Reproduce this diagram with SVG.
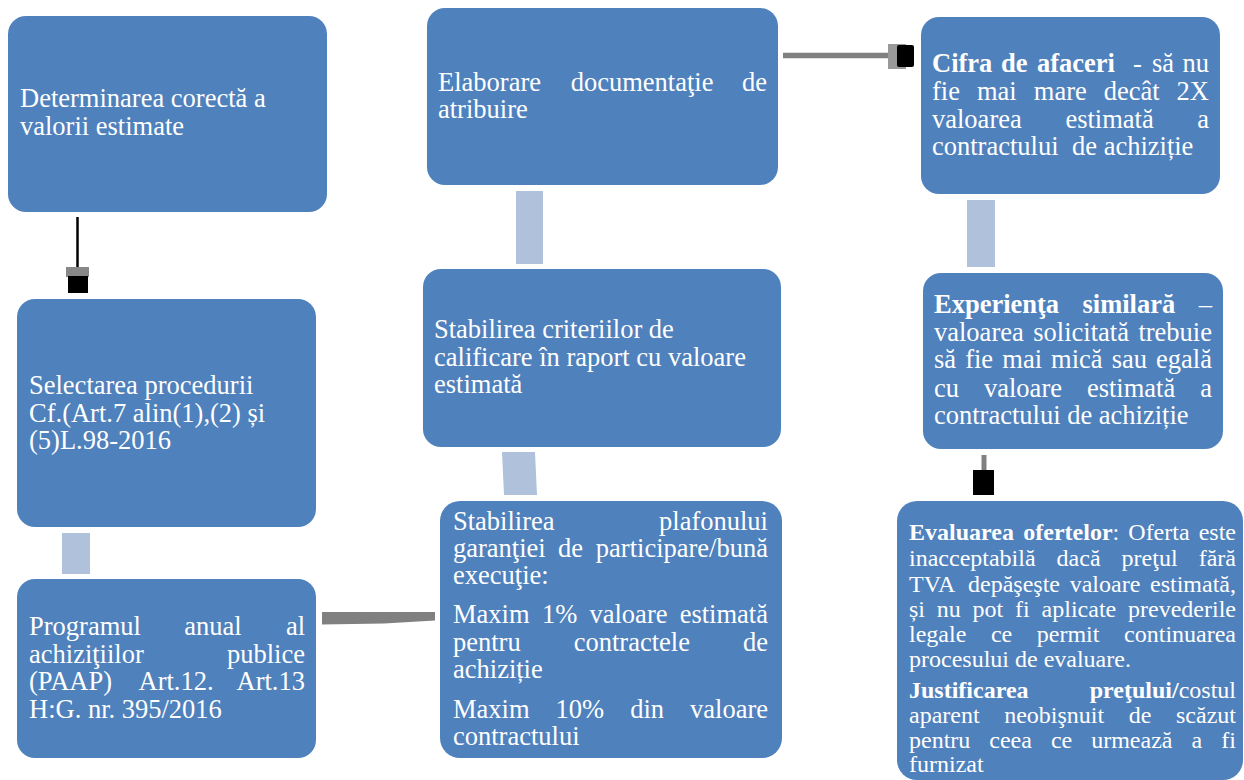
<svg xmlns="http://www.w3.org/2000/svg" width="1244" height="780" viewBox="0 0 1244 780">
<style>
.box{fill:#4F81BD}
.bar{fill:#B0C1DC}
.gl{fill:#808080}
.t{font-family:"Liberation Serif","Times New Roman",serif;font-size:26.5px;fill:#fff}
.s{font-size:24px}
.b{font-weight:bold}
.e{text-anchor:end}
</style>
<rect width="1244" height="780" fill="#fff"/>
<g id="connectors">
  <rect class="bar" x="62" y="533" width="28" height="41"/>
  <rect class="bar" x="516" y="191" width="27" height="73"/>
  <polygon class="bar" points="502,452 535,452 537,495 504,495"/>
  <rect class="bar" x="967" y="200" width="28" height="67"/>
  <line x1="77.5" y1="217" x2="77.5" y2="280" stroke="#000" stroke-width="2.5"/>
  <rect x="66" y="267" width="23" height="10" fill="#888"/>
  <rect x="68" y="276" width="20" height="17" fill="#000"/>
  <line x1="783" y1="55.5" x2="896" y2="55.5" stroke="#808080" stroke-width="5.5"/>
  <rect x="888" y="44" width="18" height="25" fill="#999"/>
  <rect x="897" y="45" width="17" height="22" rx="2" fill="#000"/>
  <line x1="984" y1="455" x2="984" y2="472" stroke="#808080" stroke-width="5"/>
  <rect x="973" y="470" width="21" height="25" fill="#000"/>
  <polygon class="gl" points="322,612 435,612 435,620.5 384,623.5 322,624.5"/>
</g>
<g id="n1">
  <rect class="box" x="8" y="16" width="319" height="196" rx="18"/>
  <text class="t" x="20" y="107">Determinarea corectă a</text>
  <text class="t" x="20" y="135">valorii estimate</text>
</g>
<g id="n2">
  <rect class="box" x="17" y="299" width="299" height="228" rx="18"/>
  <text class="t" x="29" y="394">Selectarea procedurii</text>
  <text class="t" x="29" y="422">Cf.(Art.7 alin(1),(2) și</text>
  <text class="t" x="29" y="449">(5)L.98-2016</text>
</g>
<g id="n3">
  <rect class="box" x="17" y="579" width="299" height="179" rx="18"/>
  <text class="t" y="635"><tspan x="29">Programul</tspan><tspan x="184.3">anual</tspan></text>
  <text class="t e" x="305" y="635">al</text>
  <text class="t" x="29" y="663">achiziţiilor</text>
  <text class="t e" x="305" y="663">publice</text>
  <text class="t" y="690"><tspan x="29">(PAAP)</tspan><tspan x="138.5">Art.12.</tspan></text>
  <text class="t e" x="305" y="690">Art.13</text>
  <text class="t" x="29" y="718">H:G. nr. 395/2016</text>
</g>
<g id="n4">
  <rect class="box" x="427" y="8" width="351" height="177" rx="18"/>
  <text class="t" y="91"><tspan x="438">Elaborare</tspan><tspan x="570.7">documentaţie</tspan></text>
  <text class="t e" x="767" y="91">de</text>
  <text class="t" x="438" y="118">atribuire</text>
</g>
<g id="n5">
  <rect class="box" x="423" y="269" width="358" height="178" rx="18"/>
  <text class="t" x="434" y="338">Stabilirea criteriilor de</text>
  <text class="t" x="434" y="366">calificare în raport cu valoare</text>
  <text class="t" x="434" y="393">estimată</text>
</g>
<g id="n6">
  <rect class="box" x="440" y="501" width="342" height="257" rx="20"/>
  <text class="t" x="453" y="530">Stabilirea</text>
  <text class="t e" x="768" y="530">plafonului</text>
  <text class="t" y="557"><tspan x="453">garanţiei</tspan><tspan x="558">de</tspan></text>
  <text class="t e" x="768" y="557">participare/bună</text>
  <text class="t" x="453" y="584">execuţie:</text>
  <text class="t" y="623"><tspan x="453">Maxim</tspan><tspan x="541.9">1%</tspan><tspan x="589.5">valoare</tspan></text>
  <text class="t e" x="768" y="623">estimată</text>
  <text class="t" y="651"><tspan x="453">pentru</tspan><tspan x="573.7">contractele</tspan></text>
  <text class="t e" x="768" y="651">de</text>
  <text class="t" x="453" y="678">achiziție</text>
  <text class="t" y="718"><tspan x="453">Maxim</tspan><tspan x="555.6">10%</tspan><tspan x="630.2">din</tspan></text>
  <text class="t e" x="768" y="718">valoare</text>
  <text class="t" x="453" y="745">contractului</text>
</g>
<g id="n7">
  <rect class="box" x="921" y="17" width="299" height="177" rx="18"/>
  <text class="t" y="72"><tspan class="b" x="932">Cifra</tspan><tspan class="b" x="1001">de</tspan><tspan class="b" x="1037">afaceri</tspan><tspan x="1133">-</tspan><tspan x="1152">să</tspan></text>
  <text class="t e" x="1209" y="72">nu</text>
  <text class="t" y="100"><tspan x="932">fie</tspan><tspan x="977">mai</tspan><tspan x="1033.8">mare</tspan><tspan x="1103.8">decât</tspan></text>
  <text class="t e" x="1209" y="100">2X</text>
  <text class="t" y="128"><tspan x="932">valoarea</tspan><tspan x="1065.4">estimată</tspan></text>
  <text class="t e" x="1209" y="128">a</text>
  <text class="t" y="155"><tspan x="932">contractului</tspan><tspan x="1072">de achiziție</tspan></text>
</g>
<g id="n8">
  <rect class="box" x="923" y="273" width="300" height="176" rx="18"/>
  <text class="t b" y="313"><tspan x="934">Experienţa</tspan><tspan x="1082.5">similară</tspan></text>
  <text class="t e" x="1212" y="313">–</text>
  <text class="t" y="341"><tspan x="934">valoarea</tspan><tspan x="1033.3">solicitată</tspan></text>
  <text class="t e" x="1212" y="341">trebuie</text>
  <text class="t" y="368"><tspan x="934">să</tspan><tspan x="965.2">fie</tspan><tspan x="1002.3">mai</tspan><tspan x="1051.1">mică</tspan><tspan x="1111.7">sau</tspan></text>
  <text class="t e" x="1212" y="368">egală</text>
  <text class="t" y="397"><tspan x="934">cu</tspan><tspan x="984">valoare</tspan><tspan x="1086.9">estimată</tspan></text>
  <text class="t e" x="1212" y="397">a</text>
  <text class="t" x="934" y="424">contractului de achiziție</text>
</g>
<g id="n9">
  <rect class="box" x="897" y="501" width="346" height="279" rx="20"/>
  <text class="t s" y="540"><tspan class="b" x="909">Evaluarea</tspan><tspan class="b" x="1023.3">ofertelor</tspan><tspan>:</tspan><tspan x="1128.3">Oferta</tspan></text>
  <text class="t s e" x="1236" y="540">este</text>
  <text class="t s" y="566"><tspan x="909">inacceptabilă</tspan><tspan x="1056.6">dacă</tspan><tspan x="1121.6">preţul</tspan></text>
  <text class="t s e" x="1236" y="566">fără</text>
  <text class="t s" y="592"><tspan x="909">TVA</tspan><tspan x="968">depăşeşte</tspan><tspan x="1069.7">valoare</tspan></text>
  <text class="t s e" x="1236" y="592">estimată,</text>
  <text class="t s" y="617"><tspan x="909">și</tspan><tspan x="936.8">nu</tspan><tspan x="972.6">pot</tspan><tspan x="1015.1">fi</tspan><tspan x="1041.6">aplicate</tspan></text>
  <text class="t s e" x="1236" y="617">prevederile</text>
  <text class="t s" y="642"><tspan x="909">legale</tspan><tspan x="990.9">ce</tspan><tspan x="1036.8">permit</tspan></text>
  <text class="t s e" x="1236" y="642">continuarea</text>
  <text class="t s" x="909" y="667">procesului de evaluare.</text>
  <text class="t s b" x="909" y="698">Justificarea</text>
  <text class="t s e" x="1236" y="698"><tspan class="b">preţului/</tspan>costul</text>
  <text class="t s" y="723"><tspan x="909">aparent</tspan><tspan x="1004.2">neobişnuit</tspan><tspan x="1128.8">de</tspan></text>
  <text class="t s e" x="1236" y="723">scăzut</text>
  <text class="t s" y="748"><tspan x="909">pentru</tspan><tspan x="989.3">ceea</tspan><tspan x="1050.9">ce</tspan><tspan x="1091.2">urmează</tspan><tspan x="1191.5">a</tspan></text>
  <text class="t s e" x="1236" y="748">fi</text>
  <text class="t s" x="909" y="772">furnizat</text>
</g>
</svg>
